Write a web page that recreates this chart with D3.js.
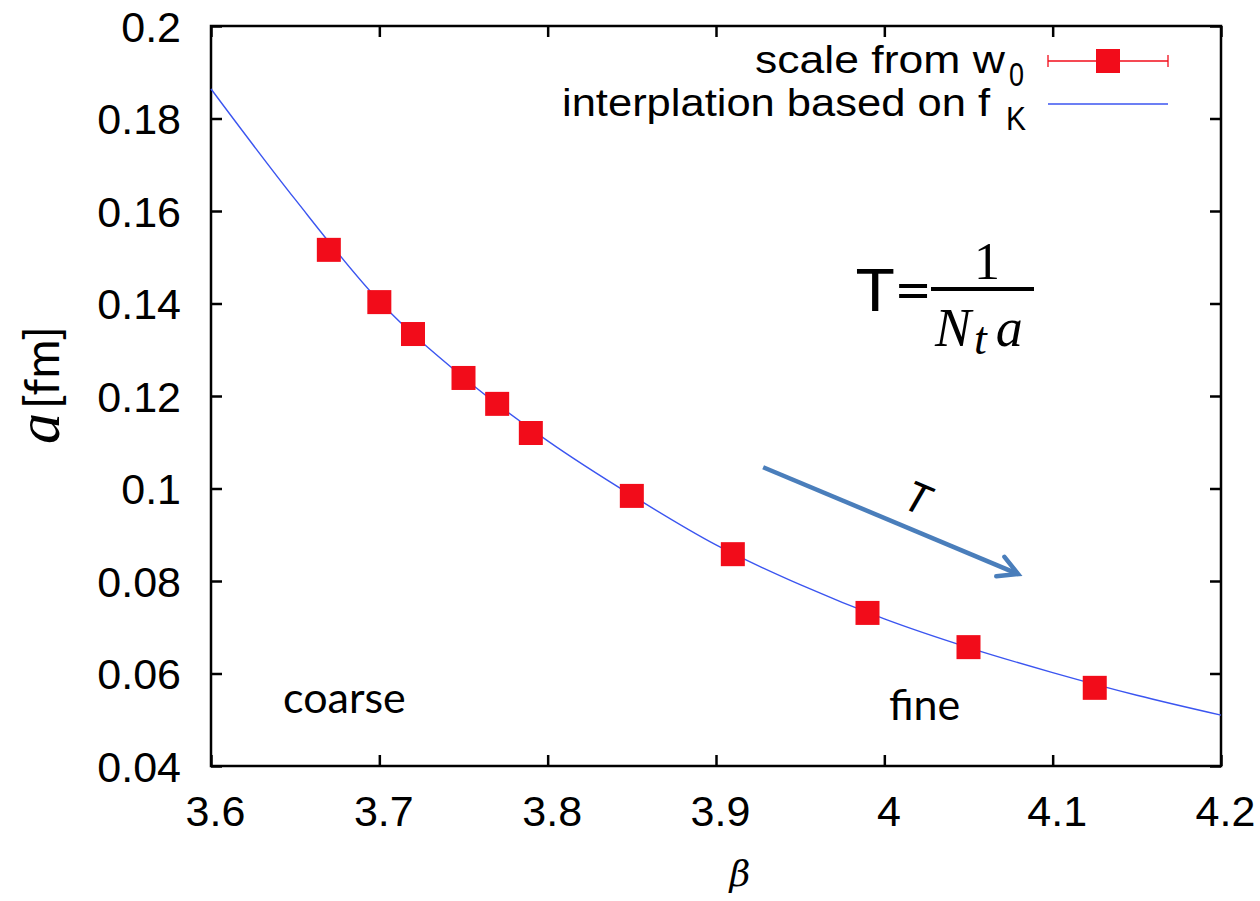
<!DOCTYPE html>
<html>
<head>
<meta charset="utf-8">
<script src="https://cdn.jsdelivr.net/npm/d3@7"></script>
<style>
  body { margin: 0; background: #fff; }
  svg { display: block; }
</style>
</head>
<body>
<div class="canvas"></div>
<script>
// lattice spacing data
const betas = [3.67, 3.70, 3.72, 3.75, 3.77, 3.79, 3.85, 3.91, 3.99, 4.05, 4.125]
const spacings = [0.1516, 0.1403, 0.1334, 0.1239, 0.1183, 0.1120, 0.0984, 0.0858, 0.0731, 0.0657, 0.0569]
// interpolation curve
const curveBetas = [3.60, 3.65, 3.70, 3.75, 3.80, 3.85, 3.90, 3.95, 4.00, 4.05, 4.10, 4.15, 4.20]
const curveSpacings = [0.1864, 0.1625, 0.1405, 0.1240, 0.1103, 0.0985, 0.0878, 0.0792, 0.0718, 0.0656, 0.0602, 0.0553, 0.0510]
const xTicks = [3.6, 3.7, 3.8, 3.9, 4.0, 4.1, 4.2]
const yTicks = [0.04, 0.06, 0.08, 0.1, 0.12, 0.14, 0.16, 0.18, 0.2]

const width = 1260
const height = 901
const margin = {top: 26, right: 39, bottom: 135, left: 211}
const tickFont = '"Liberation Sans", Arial, sans-serif'
const blue = '#3b55f0'
const red = '#f20c1a'

const svg = d3.select('.canvas')
  .append('svg')
  .attr('width', width)
  .attr('height', height)

const x = d3.scaleLinear()
  .domain([3.6, 4.2])
  .range([margin.left, width - margin.right])
const y = d3.scaleLinear()
  .domain([0.04, 0.2])
  .range([height - margin.bottom, margin.top])

const fmt = d => String(+d.toFixed(2))

// axes with inward ticks
const xAxis = svg.append('g')
  .attr('transform', `translate(0, ${y(0.04)})`)
  .call(d3.axisBottom(x).tickValues(xTicks).tickSize(-11).tickPadding(29).tickFormat(fmt))
const yAxis = svg.append('g')
  .attr('transform', `translate(${x(3.6)}, 0)`)
  .call(d3.axisLeft(y).tickValues(yTicks).tickSize(-11).tickPadding(30).tickFormat(fmt))
svg.append('g')
  .attr('transform', `translate(0, ${y(0.2)})`)
  .call(d3.axisTop(x).tickValues(xTicks).tickSize(-11).tickFormat(''))
svg.append('g')
  .attr('transform', `translate(${x(4.2)}, 0)`)
  .call(d3.axisRight(y).tickValues(yTicks).tickSize(-11).tickFormat(''))

svg.selectAll('.domain').remove()
svg.selectAll('.tick line').attr('stroke', '#000').attr('stroke-width', 2.5)
svg.selectAll('.tick text')
  .attr('fill', '#000')
  .style('font-family', tickFont)
  .style('font-size', '43px')
xAxis.selectAll('.tick text').attr('dy', '0.71em').attr('x', 4)
yAxis.selectAll('.tick text').attr('dy', '0.36em')

svg.append('rect')
  .attr('x', x(3.6))
  .attr('y', y(0.2))
  .attr('width', x(4.2) - x(3.6))
  .attr('height', y(0.04) - y(0.2))
  .attr('fill', 'none')
  .attr('stroke', '#000')
  .attr('stroke-width', 2.5)

// interpolation curve
const line = d3.line()
  .x((d, i) => x(curveBetas[i]))
  .y(d => y(d))
  .curve(d3.curveMonotoneX)
svg.append('path')
  .datum(curveSpacings)
  .attr('d', line)
  .attr('fill', 'none')
  .attr('stroke', blue)
  .attr('stroke-width', 1.4)

// data squares
const size = 24
svg.selectAll('rect.point')
  .data(betas)
  .enter().append('rect')
  .attr('class', 'point')
  .attr('x', d => x(d) - size / 2)
  .attr('y', (d, i) => y(spacings[i]) - size / 2)
  .attr('width', size)
  .attr('height', size)
  .attr('fill', red)

// legend
const legend = svg.append('g').style('font-family', tickFont).style('font-size', '38px')
legend.append('text')
  .attr('x', 1005).attr('y', 73)
  .attr('text-anchor', 'end')
  .attr('textLength', 250).attr('lengthAdjust', 'spacingAndGlyphs')
  .text('scale from w')
legend.append('text')
  .attr('x', 1009).attr('y', 86)
  .style('font-size', '34px')
  .attr('textLength', 15).attr('lengthAdjust', 'spacingAndGlyphs')
  .text('0')
legend.append('text')
  .attr('x', 990).attr('y', 116)
  .attr('text-anchor', 'end')
  .attr('textLength', 428).attr('lengthAdjust', 'spacingAndGlyphs')
  .text('interplation based on f')
legend.append('text')
  .attr('x', 1006).attr('y', 130)
  .style('font-size', '34px')
  .attr('textLength', 20).attr('lengthAdjust', 'spacingAndGlyphs')
  .text('K')
legend.append('line')
  .attr('x1', 1048).attr('x2', 1168).attr('y1', 61).attr('y2', 61)
  .attr('stroke', red).attr('stroke-width', 1.3)
legend.selectAll('line.cap')
  .data([1048, 1168])
  .enter().append('line')
  .attr('x1', d => d).attr('x2', d => d).attr('y1', 55).attr('y2', 67)
  .attr('stroke', red).attr('stroke-width', 1.3)
legend.append('rect')
  .attr('x', 1108 - size / 2).attr('y', 61 - size / 2)
  .attr('width', size).attr('height', size)
  .attr('fill', red)
legend.append('line')
  .attr('x1', 1048).attr('x2', 1168).attr('y1', 104).attr('y2', 104)
  .attr('stroke', blue).attr('stroke-width', 1.4)

// axis titles
svg.append('text')
  .attr('x', 740).attr('y', 886)
  .attr('text-anchor', 'middle')
  .style('font-family', '"DejaVu Serif", serif')
  .style('font-style', 'italic')
  .style('font-size', '36px')
  .text('β')
const yLabel = svg.append('text')
  .attr('transform', 'translate(59, 385) rotate(-90)')
  .attr('text-anchor', 'middle')
yLabel.append('tspan')
  .style('font-family', '"Liberation Serif", serif')
  .style('font-style', 'italic')
  .style('font-size', '62px')
  .text('a')
yLabel.append('tspan')
  .attr('dx', 4)
  .style('font-family', 'Lato, sans-serif')
  .style('font-size', '48px')
  .text('[fm]')

// annotations
const note = svg.append('g').style('font-family', 'Lato, sans-serif').style('font-size', '43px')
note.append('text').attr('x', 283).attr('y', 713).text('coarse')
note.append('text').attr('x', 889).attr('y', 720).text('fine')

// T = 1 / (N_t a)
const formula = svg.append('g')
formula.append('text')
  .attr('x', 856).attr('y', 311)
  .style('font-family', 'Lato, sans-serif')
  .style('font-size', '58px')
  .attr('textLength', 76).attr('lengthAdjust', 'spacingAndGlyphs')
  .text('T=')
formula.append('line')
  .attr('x1', 931).attr('x2', 1034).attr('y1', 289).attr('y2', 289)
  .attr('stroke', '#000').attr('stroke-width', 4)
formula.append('text')
  .attr('x', 987).attr('y', 279)
  .attr('text-anchor', 'middle')
  .style('font-family', '"Liberation Serif", serif')
  .style('font-size', '52px')
  .text('1')
const den = formula.append('text')
  .attr('x', 935).attr('y', 346)
  .style('font-family', '"Liberation Serif", serif')
  .style('font-style', 'italic')
  .style('font-size', '54px')
den.append('tspan').text('N')
den.append('tspan').attr('dy', 8).attr('dx', 3).style('font-size', '46px').text('t')
den.append('tspan').attr('dy', -8).attr('dx', 9).text('a')

// temperature arrow
const x0 = x(3.928), y0 = y(0.1046), x1 = x(4.0795), y1 = y(0.0815)
const ang = Math.atan2(y1 - y0, x1 - x0)
const head = 22
const wing = s => [x1 - head * Math.cos(ang + s * 0.5), y1 - head * Math.sin(ang + s * 0.5)]
const arrowColor = '#4a7ebb'
svg.append('line')
  .attr('x1', x0).attr('y1', y0).attr('x2', x1).attr('y2', y1)
  .attr('stroke', arrowColor).attr('stroke-width', 4.5)
svg.append('path')
  .attr('d', `M${wing(1)}L${x1},${y1}L${wing(-1)}`)
  .attr('fill', 'none')
  .attr('stroke', arrowColor)
  .attr('stroke-width', 4.5)
  .attr('stroke-linecap', 'round')
svg.append('text')
  .attr('transform', `translate(912, 512) rotate(${ang * 180 / Math.PI})`)
  .attr('text-anchor', 'middle')
  .style('font-family', 'Lato, sans-serif')
  .style('font-style', 'italic')
  .style('font-size', '42px')
  .text('T')
</script>
</body>
</html>
